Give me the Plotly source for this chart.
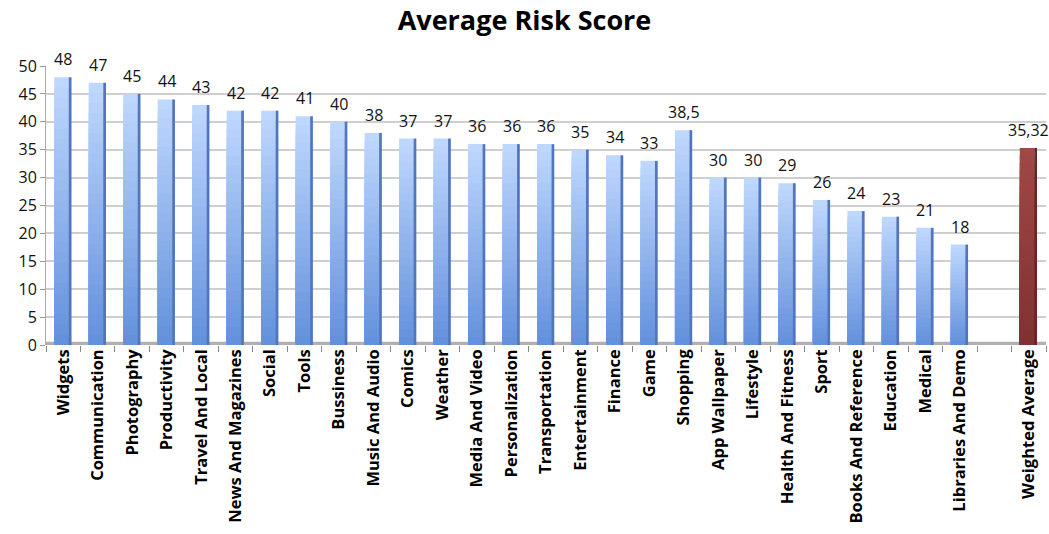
import plotly.graph_objects as go

# Average risk score per app category
categories = ["Widgets", "Communication", "Photography", "Productivity", "Travel And Local",
              "News And Magazines", "Social", "Tools", "Bussiness", "Music And Audio",
              "Comics", "Weather", "Media And Video", "Personalization", "Transportation",
              "Entertainment", "Finance", "Game", "Shopping", "App Wallpaper", "Lifestyle",
              "Health And Fitness", "Sport", "Books And Reference", "Education", "Medical",
              "Libraries And Demo", " ", "Weighted Average"]
scores = [48, 47, 45, 44, 43, 42, 42, 41, 40, 38, 37, 37, 36, 36, 36, 35, 34, 33, 38.5,
          30, 30, 29, 26, 24, 23, 21, 18, None, 35.32]
y_ticks = [0, 5, 10, 15, 20, 25, 30, 35, 40, 45, 50]

FONT = "Open Sans, Lato, sans-serif"


def lerp(c1, c2, t):
    return "rgb({},{},{})".format(*[round(a + (b - a) * t) for a, b in zip(c1, c2)])


BLUE_TOP, BLUE_BOTTOM = (190, 215, 253), (100, 145, 220)
RED_TOP, RED_BOTTOM = (160, 72, 70), (128, 50, 50)
is_avg = [c == "Weighted Average" for c in categories]

labels = ["" if v is None else f"{v:g}".replace(".", ",") for v in scores]

fig = go.Figure()

# vertical gradient on the bar face built from overlaid bars of shrinking height
N = 26
for k in range(N):
    frac = 1 - k / N
    t = k / (N - 1)
    heights = [None if v is None else v * frac for v in scores]
    colors = [lerp(RED_TOP, RED_BOTTOM, t) if a else lerp(BLUE_TOP, BLUE_BOTTOM, t) for a in is_avg]
    fig.add_bar(
        x=categories, y=heights, width=0.42, offset=-0.26,
        marker=dict(color=colors, line=dict(width=0)),
        hoverinfo="skip" if k else "x+y", showlegend=False, cliponaxis=False,
    )

# darker right-hand side face of each column
side_colors = ["rgb(105,38,38)" if a else "rgb(80,118,190)" for a in is_avg]
fig.add_bar(
    x=categories, y=scores, width=0.08, offset=0.16,
    marker=dict(color=side_colors, line=dict(width=0)),
    hoverinfo="skip", showlegend=False, cliponaxis=False,
)

# value labels above each column
for c, v, lab in zip(categories, scores, labels):
    if v is None:
        continue
    fig.add_annotation(x=c, y=v, text=lab, showarrow=False, yanchor="bottom",
                       xshift=0, yshift=5,
                       font=dict(family=FONT, size=16, color="#111"))

# grey floor strip under the columns
fig.add_shape(type="rect", xref="paper", yref="y", x0=0, x1=1, y0=0, y1=0.6,
              fillcolor="#b0b0b0", line=dict(width=0), layer="below")

fig.update_layout(
    title=dict(text="<b>Average Risk Score</b>", x=0.5, xanchor="center", y=0.962, yanchor="middle",
               font=dict(family=FONT, size=27, color="#000")),
    barmode="overlay",
    width=1049, height=534,
    margin=dict(l=46, r=3, t=66, b=189),
    paper_bgcolor="white", plot_bgcolor="white",
    xaxis=dict(
        type="category", categoryorder="array", categoryarray=categories,
        tickmode="array", tickvals=categories, ticktext=[f"<b>{c}</b>" for c in categories],
        tickangle=-90, tickson="boundaries", ticks="outside", ticklen=6, tickcolor="#888",
        showline=False, showgrid=False,
        tickfont=dict(family=FONT, size=16.5, color="#000"),
        range=[-0.5, len(categories) - 0.5],
    ),
    yaxis=dict(
        range=[0, 50], tickvals=y_ticks, ticks="outside", ticklen=5, tickcolor="#999",
        showline=True, linecolor="#aaa", linewidth=1,
        gridcolor="#cfcfcf", gridwidth=2, zeroline=False,
        tickfont=dict(family=FONT, size=16, color="#111"),
    ),
)

fig.write_html("out.html")
